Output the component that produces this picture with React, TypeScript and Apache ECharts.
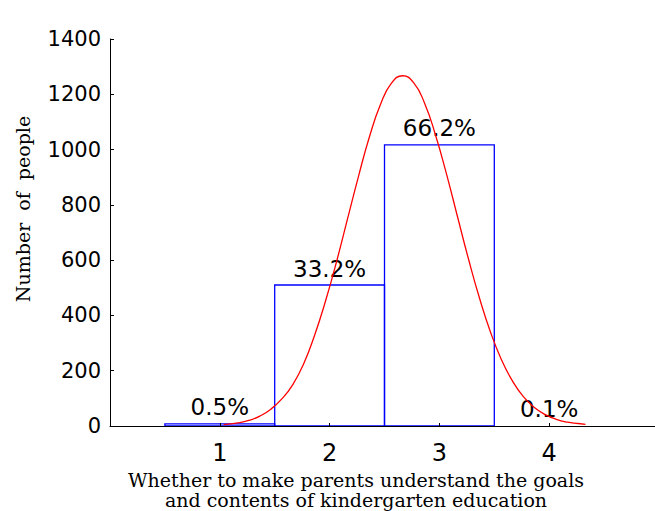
import React, { useEffect, useRef } from "react";
import * as echarts from "echarts";

const categories = [1, 2, 3, 4];
const counts = [8, 510, 1017, 1];
const pctLabels = ["0.5%", "33.2%", "66.2%", "0.1%"];

const curveX = [1.035, 1.165, 1.265, 1.365, 1.465, 1.565, 1.665, 1.765, 1.865, 1.965, 2.065, 2.165, 2.265, 2.365, 2.465, 2.565, 2.665, 2.765, 2.865, 2.965, 3.065, 3.165, 3.265, 3.365, 3.465, 3.565, 3.665, 3.765, 3.865, 3.965, 4.065, 4.165, 4.265, 4.33];
const curveY = [5, 11, 20, 36, 61, 98, 150, 226, 330, 455, 597, 752, 906, 1049, 1165, 1241, 1267, 1242, 1168, 1052, 911, 757, 604, 463, 340, 240, 163, 106, 67, 41, 24, 14, 9, 6];

const xTickLabels = ["1", "2", "3", "4"];
const yAxisTitle = "Number  of  people";
const xAxisTitle = "Whether to make parents understand the goals\nand contents of kindergarten education";

export default function App() {
  const ref = useRef<HTMLDivElement>(null);
  useEffect(() => {
    if (!ref.current) return;
    const chart = echarts.init(ref.current, null, { renderer: "svg" });
    const option: any = {
      animation: false,
      backgroundColor: "#ffffff",
      grid: { left: 110, right: 0, top: 39, bottom: 85, containLabel: false },
      xAxis: {
        type: "value",
        min: 0,
        max: 5,
        interval: 1,
        z: 5,
        splitLine: { show: false },
        axisLine: { show: true, onZero: false, lineStyle: { color: "#000", width: 1 } },
        axisTick: { show: true, inside: true, length: 3, lineStyle: { color: "#000" } },
        axisLabel: {
          margin: 15,
          fontSize: 24,
          fontFamily: "DejaVu Sans",
          color: "#000",
          formatter: (v: number) => {
            const i = categories.indexOf(v);
            return i >= 0 ? xTickLabels[i] : "";
          },
        },
      },
      yAxis: {
        type: "value",
        min: 0,
        max: 1400,
        interval: 200,
        z: 5,
        splitLine: { show: false },
        axisLine: { show: true, lineStyle: { color: "#000", width: 1 } },
        axisTick: { show: true, inside: true, length: 4, lineStyle: { color: "#000" } },
        axisLabel: {
          margin: 9,
          fontSize: 21,
          fontFamily: "DejaVu Sans",
          color: "#000",
          formatter: (v: number) => String(v),
        },
      },
      graphic: [
        {
          type: "text",
          x: 23,
          y: 209,
          rotation: Math.PI / 2,
          style: {
            text: yAxisTitle,
            font: '19px "DejaVu Serif"',
            fill: "#000",
            align: "center",
            verticalAlign: "middle",
            textAlign: "center",
            textVerticalAlign: "middle",
          },
        },
        {
          type: "text",
          x: 356,
          y: 470,
          style: {
            text: xAxisTitle,
            font: '19px "DejaVu Serif"',
            lineHeight: 20,
            fill: "#000",
            align: "center",
            verticalAlign: "top",
            textAlign: "center",
            textVerticalAlign: "top",
          },
        },
      ],
      series: [
        {
          type: "custom",
          data: categories.map((c, i) => [c, counts[i]]),
          encode: { x: 0, y: 1 },
          renderItem: (params: any, api: any) => {
            const x = api.value(0);
            const v = api.value(1);
            const p1 = api.coord([x - 0.5, v]);
            const p2 = api.coord([x + 0.5, 0]);
            const h = p2[1] - p1[1];
            const children: any[] = [];
            if (h >= 1) {
              children.push({
                type: "rect",
                shape: { x: p1[0], y: p1[1], width: p2[0] - p1[0], height: h },
                style: { fill: "none", stroke: "#0000ff", lineWidth: 1.3 },
              });
            }
            children.push({
              type: "text",
              x: (p1[0] + p2[0]) / 2,
              y: p1[1] - 5,
              style: {
                text: pctLabels[params.dataIndex],
                font: '23px "DejaVu Sans"',
                fill: "#000",
                align: "center",
                verticalAlign: "bottom",
                textAlign: "center",
                textVerticalAlign: "bottom",
              },
            });
            return { type: "group", children };
          },
          z: 1,
        },
        {
          type: "line",
          data: curveX.map((x, i) => [x, curveY[i]]),
          smooth: 0.5,
          showSymbol: false,
          symbol: "none",
          lineStyle: { color: "#ff0000", width: 1.3 },
          z: 3,
        },
      ],
    };
    chart.setOption(option);
    return () => chart.dispose();
  }, []);
  return (
    <div style={{ position: "fixed", left: 0, top: 0, width: 655, height: 511, overflow: "hidden", background: "#fff" }}>
      <div ref={ref} style={{ width: 662, height: 511 }} />
    </div>
  );
}
